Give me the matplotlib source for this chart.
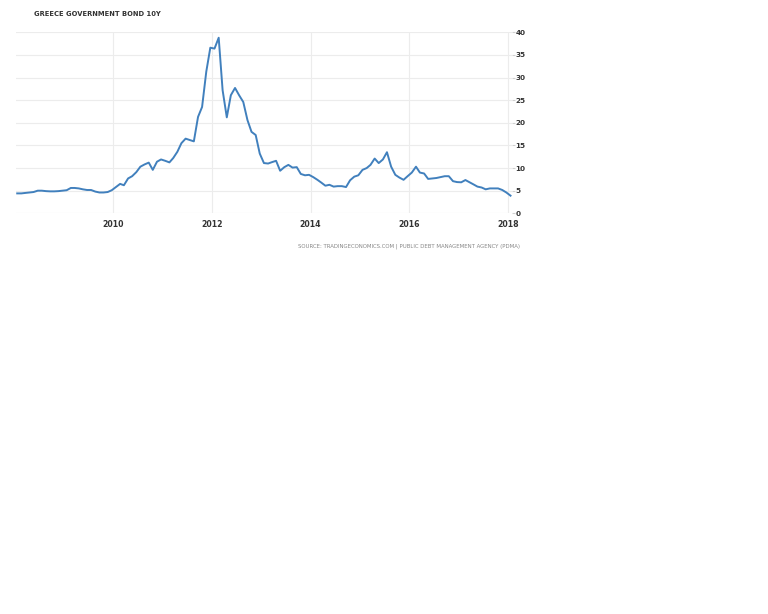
import numpy as np
import pandas as pd
import matplotlib
matplotlib.use("Agg")
import matplotlib.pyplot as plt
import matplotlib.dates as mdates

# monthly yields, Jan 2008 .. Jan 2018
yields = [
    4.4, 4.4, 4.5, 4.6, 4.7, 5.0, 5.0, 4.9, 4.85, 4.85, 4.9, 5.0,      # 2008
    5.1, 5.6, 5.6, 5.5, 5.3, 5.15, 5.15, 4.8, 4.6, 4.6, 4.7, 5.1,      # 2009
    5.8, 6.5, 6.2, 7.7, 8.2, 9.1, 10.3, 10.8, 11.2, 9.6, 11.4, 11.9,   # 2010
    11.6, 11.25, 12.2, 13.6, 15.5, 16.5, 16.2, 15.9, 21.3, 23.5, 31.3, 36.6,  # 2011
    36.4, 38.8, 27.2, 21.2, 26.1, 27.7, 26.1, 24.6, 20.6, 18.0, 17.3, 13.2,   # 2012
    11.1, 11.0, 11.3, 11.6, 9.4, 10.2, 10.7, 10.1, 10.2, 8.7, 8.4, 8.5,  # 2013
    8.0, 7.4, 6.8, 6.1, 6.3, 5.9, 6.0, 6.0, 5.8, 7.3, 8.1, 8.4,        # 2014
    9.6, 10.0, 10.7, 12.1, 11.1, 11.9, 13.5, 10.3, 8.5, 7.9, 7.4, 8.2,  # 2015
    9.0, 10.3, 9.0, 8.8, 7.6, 7.7, 7.8, 8.0, 8.2, 8.2, 7.1, 6.9,       # 2016
    6.85, 7.35, 6.9, 6.4, 5.9, 5.7, 5.3, 5.5, 5.5, 5.5, 5.15, 4.6,     # 2017
    3.9,                                                               # 2018
]
dates = pd.date_range("2008-01-01", periods=len(yields), freq="MS") + pd.Timedelta(days=20)
years = [2010, 2012, 2014, 2016, 2018]
yticks = [0, 5, 10, 15, 20, 25, 30, 35, 40]

fig = plt.figure(figsize=(7.68, 6.14), dpi=100)
ax = fig.add_axes([16 / 768, 1 - 213.3 / 614, 496 / 768, 181 / 614])

ax.plot(dates, yields, color="#4180bd", linewidth=1.4, zorder=3)

ax.set_ylim(0, 40)
ax.set_xlim(pd.Timestamp("2008-01-12"), pd.Timestamp("2018-02-01"))
ax.set_yticks(yticks)
ax.set_xticks([pd.Timestamp(f"{y}-01-01") for y in years])
ax.set_xticklabels([str(y) for y in years])
ax.grid(True, color="#ececec", linewidth=0.8)
ax.set_axisbelow(True)

for s in ax.spines.values():
    s.set_visible(False)

ax.yaxis.tick_right()
ax.tick_params(axis="y", length=2.5, color="#d0d0d0", pad=0, labelsize=5.2, labelcolor="#333333")
ax.tick_params(axis="x", length=0, pad=5, labelsize=5.6, labelcolor="#333333")
for lab in ax.get_xticklabels() + ax.get_yticklabels():
    lab.set_fontweight("bold")

fig.text(34 / 768, 1 - 14 / 614, "GREECE GOVERNMENT BOND 10Y", fontsize=4.9,
         fontweight="bold", color="#333333", va="center", ha="left")
fig.text(520 / 768, 1 - 246 / 614,
         "SOURCE: TRADINGECONOMICS.COM | PUBLIC DEBT MANAGEMENT AGENCY (PDMA)",
         fontsize=3.9, color="#888888", va="center", ha="right")

fig.savefig("out.png", dpi=100)
